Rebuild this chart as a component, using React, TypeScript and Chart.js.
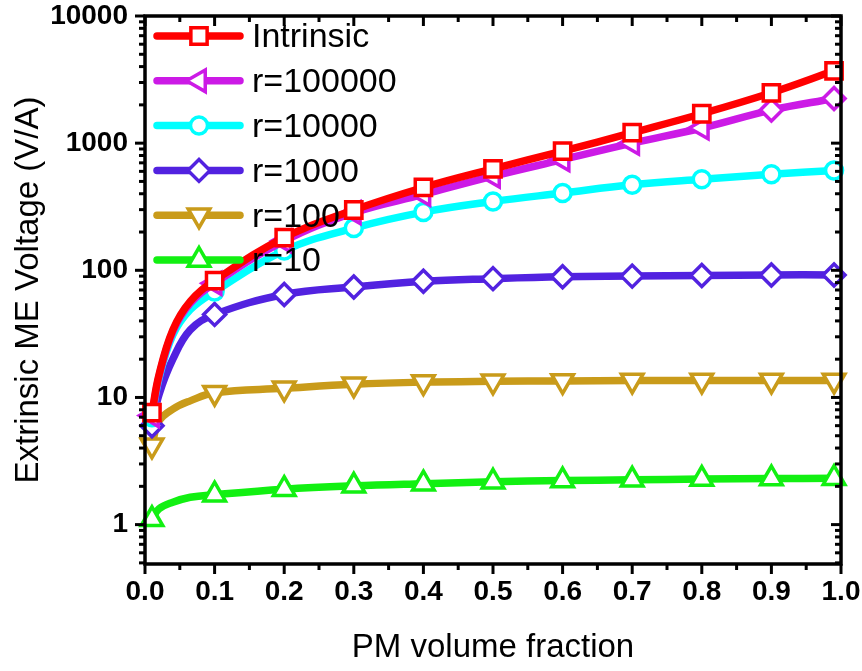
import React, { useEffect, useRef } from 'react';
import { Chart, registerables } from 'chart.js';

Chart.register(...registerables);

// PM volume fraction sampled for every curve (the first steep rise is sampled more finely)
const fractions = [0.01, 0.02, 0.04, 0.065, 0.1, 0.2, 0.3, 0.4, 0.5, 0.6, 0.7, 0.8, 0.9, 0.99];
// fractions that carry a symbol
const symbolFractions = [0.01, 0.1, 0.2, 0.3, 0.4, 0.5, 0.6, 0.7, 0.8, 0.9, 0.99];

// Extrinsic ME voltage (V/A) for each resistance ratio
const intrinsic = [7.6, 15, 34, 57, 83, 181, 298, 448, 628, 865, 1209, 1703, 2489, 3706];
const r100000 = [7.2, 14.5, 33, 55, 79, 170, 284, 395, 550, 742, 1000, 1316, 1820, 2246];
const r10000 = [7.0, 14, 31, 49, 68, 143, 215, 287, 348, 405, 470, 520, 569, 609];
const r1000 = [6.0, 10.5, 20, 34, 45, 64.5, 74, 82, 86, 89, 90, 91, 92, 92];
const r100 = [4.2, 6.5, 8.1, 9.4, 10.9, 11.8, 12.7, 13.2, 13.4, 13.5, 13.6, 13.6, 13.6, 13.6];
const r10 = [1.1, 1.33, 1.5, 1.64, 1.72, 1.9, 2.02, 2.1, 2.17, 2.22, 2.25, 2.28, 2.3, 2.32];

const seriesLabels = ['Intrinsic', 'r=100000', 'r=10000', 'r=1000', 'r=100', 'r=10'];
const xTickValues = [0, 0.1, 0.2, 0.3, 0.4, 0.5, 0.6, 0.7, 0.8, 0.9, 1.0];
const yTickValues = [1, 10, 100, 1000, 10000];

const FONT = '"Liberation Sans", Arial, Helvetica, sans-serif';

type Marker = { style: string; rot: number; r: number };

const seriesStyle = [
  { color: '#ff0000', marker: { style: 'rect', rot: 0, r: 11.5 } },
  { color: '#cc1ae6', marker: { style: 'triangle', rot: -90, r: 12.5 } },
  { color: '#00ffff', marker: { style: 'circle', rot: 0, r: 8.5 } },
  { color: '#5222e0', marker: { style: 'rectRot', rot: 0, r: 11 } },
  { color: '#c99b1a', marker: { style: 'triangle', rot: 180, r: 12.5 } },
  { color: '#12f012', marker: { style: 'triangle', rot: 0, r: 12.5 } },
];

const seriesValues = [intrinsic, r100000, r10000, r1000, r100, r10];

function drawMarker(ctx: CanvasRenderingContext2D, m: Marker, x: number, y: number) {
  const { style, rot, r } = m;
  ctx.beginPath();
  if (style === 'circle') {
    ctx.arc(x, y, r, 0, Math.PI * 2);
  } else if (style === 'rect') {
    const s = r * Math.SQRT1_2;
    ctx.rect(x - s, y - s, 2 * s, 2 * s);
  } else if (style === 'rectRot') {
    ctx.moveTo(x, y - r);
    ctx.lineTo(x + r, y);
    ctx.lineTo(x, y + r);
    ctx.lineTo(x - r, y);
    ctx.closePath();
  } else {
    let a = (rot * Math.PI) / 180;
    for (let k = 0; k < 3; k++) {
      const px = x + Math.sin(a) * r;
      const py = y - Math.cos(a) * r;
      if (k === 0) ctx.moveTo(px, py);
      else ctx.lineTo(px, py);
      a += (2 * Math.PI) / 3;
    }
    ctx.closePath();
  }
  ctx.fill();
  ctx.stroke();
}

// Closed frame with outward ticks on bottom/left and inward ticks on top/right
const frameTicks = {
  id: 'frameTicks',
  afterDatasetsDraw(chart: any) {
    const { ctx, chartArea: a, scales } = chart;
    const xs = scales.x;
    const ys = scales.y;
    ctx.save();
    ctx.strokeStyle = '#000';
    ctx.lineCap = 'butt';
    const line = (x1: number, y1: number, x2: number, y2: number, w: number) => {
      ctx.lineWidth = w;
      ctx.beginPath();
      ctx.moveTo(x1, y1);
      ctx.lineTo(x2, y2);
      ctx.stroke();
    };
    for (let i = 0; i <= 20; i++) {
      const px = xs.getPixelForValue(i / 20);
      const major = i % 2 === 0;
      const len = major ? 10 : 6;
      line(px, a.bottom, px, a.bottom + len, 3);
      line(px, a.top, px, a.top + len, 3);
    }
    const ymin = ys.min;
    const ymax = ys.max;
    for (let e = -1; e <= 4; e++) {
      for (let m = 1; m <= 9; m++) {
        const v = m * Math.pow(10, e);
        if (v < ymin * 0.999 || v > ymax * 1.001) continue;
        const py = ys.getPixelForValue(v);
        const len = m === 1 ? 10 : 6;
        line(a.left - len, py, a.left, py, 3);
        line(a.right - len, py, a.right, py, 3);
      }
    }
    ctx.lineWidth = 3.5;
    ctx.strokeRect(a.left, a.top, a.right - a.left, a.bottom - a.top);
    ctx.restore();
  },
};

// Legend drawn inside the plot, each entry a line sample with its marker
const innerLegend = {
  id: 'innerLegend',
  afterDraw(chart: any) {
    const { ctx } = chart;
    ctx.save();
    const x0 = 157;
    const x1 = 240;
    const xm = 199;
    const textX = 252;
    const top = 36;
    const step = 44.8;
    seriesLabels.forEach((label, i) => {
      const y = top + i * step;
      const st = seriesStyle[i];
      ctx.strokeStyle = st.color;
      ctx.lineWidth = 7.5;
      ctx.lineCap = 'round';
      ctx.beginPath();
      ctx.moveTo(x0, y);
      ctx.lineTo(x1, y);
      ctx.stroke();
      ctx.lineCap = 'butt';
      ctx.lineWidth = 3.5;
      ctx.fillStyle = '#fff';
      drawMarker(ctx, st.marker as Marker, xm, y);
      ctx.fillStyle = '#000';
      ctx.font = `34px ${FONT}`;
      ctx.textAlign = 'left';
      ctx.textBaseline = 'middle';
      ctx.fillText(label, textX, y + 2);
    });
    ctx.restore();
  },
};

export default function App() {
  const canvasRef = useRef<HTMLCanvasElement | null>(null);

  useEffect(() => {
    if (!canvasRef.current) return;
    const hasSymbol = (f: number) => symbolFractions.includes(f);
    const datasets = seriesValues.map((vals, i) => {
      const st = seriesStyle[i];
      // r=100000 switches to diamond symbols on its last two samples
      const useDiamond = (f: number) => i === 1 && f >= 0.9;
      const styles = fractions.map((f) => (useDiamond(f) ? 'rectRot' : st.marker.style));
      const rots = fractions.map((f) => (useDiamond(f) ? 0 : st.marker.rot));
      const radii = fractions.map((f) => (!hasSymbol(f) ? 0 : useDiamond(f) ? 11 : st.marker.r));
      return {
        label: seriesLabels[i],
        data: fractions.map((f, j) => ({ x: f, y: vals[j] })),
        borderColor: st.color,
        backgroundColor: '#ffffff',
        borderWidth: 7.5,
        pointStyle: styles,
        pointRotation: rots,
        pointRadius: radii,
        pointHoverRadius: radii,
        pointBorderWidth: 3.5,
        pointBackgroundColor: '#ffffff',
        pointBorderColor: st.color,
        tension: 0.4,
        clip: false,
      };
    });

    const chart = new Chart(canvasRef.current, {
      type: 'line',
      data: { datasets } as any,
      options: {
        animation: false,
        responsive: true,
        maintainAspectRatio: false,
        layout: { padding: { top: 14, right: 21, left: 0, bottom: 0 } },
        plugins: {
          legend: { display: false },
          tooltip: { enabled: false },
        },
        scales: {
          x: {
            type: 'linear',
            min: 0,
            max: 1,
            afterBuildTicks: (s: any) => {
              s.ticks = xTickValues.map((v) => ({ value: v }));
            },
            afterFit: (s: any) => {
              s.height = 107;
              s.paddingLeft = 0;
              s.paddingRight = 0;
            },
            grid: { display: false, drawTicks: false },
            border: { display: false },
            ticks: {
              color: '#000',
              padding: 14,
              maxRotation: 0,
              autoSkip: false,
              font: { family: FONT, size: 28, weight: 'bold', lineHeight: 1 },
              callback: (v: any) => Number(v).toFixed(1),
            },
            title: {
              display: true,
              text: 'PM volume fraction',
              color: '#000',
              font: { family: FONT, size: 33 },
              padding: { top: 0, bottom: 3 },
            },
          },
          y: {
            type: 'logarithmic',
            min: 0.49,
            max: 10000,
            afterBuildTicks: (s: any) => {
              s.ticks = yTickValues.map((v) => ({ value: v }));
            },
            afterFit: (s: any) => {
              s.width = 145;
              s.paddingTop = 0;
              s.paddingBottom = 0;
            },
            grid: { display: false, drawTicks: false },
            border: { display: false },
            ticks: {
              color: '#000',
              padding: 17,
              autoSkip: false,
              font: { family: FONT, size: 28, weight: 'bold', lineHeight: 1 },
              callback: (v: any) => String(v),
            },
            title: {
              display: true,
              text: 'Extrinsic ME Voltage (V/A)',
              color: '#000',
              font: { family: FONT, size: 33 },
              padding: { top: 9, bottom: 0 },
            },
          },
        },
      } as any,
      plugins: [frameTicks, innerLegend],
    });
    return () => chart.destroy();
  }, []);

  return (
    <div
      style={{
        position: 'fixed',
        left: 0,
        top: 0,
        width: 862,
        height: 671,
        background: '#fff',
      }}
    >
      <canvas ref={canvasRef} />
    </div>
  );
}
